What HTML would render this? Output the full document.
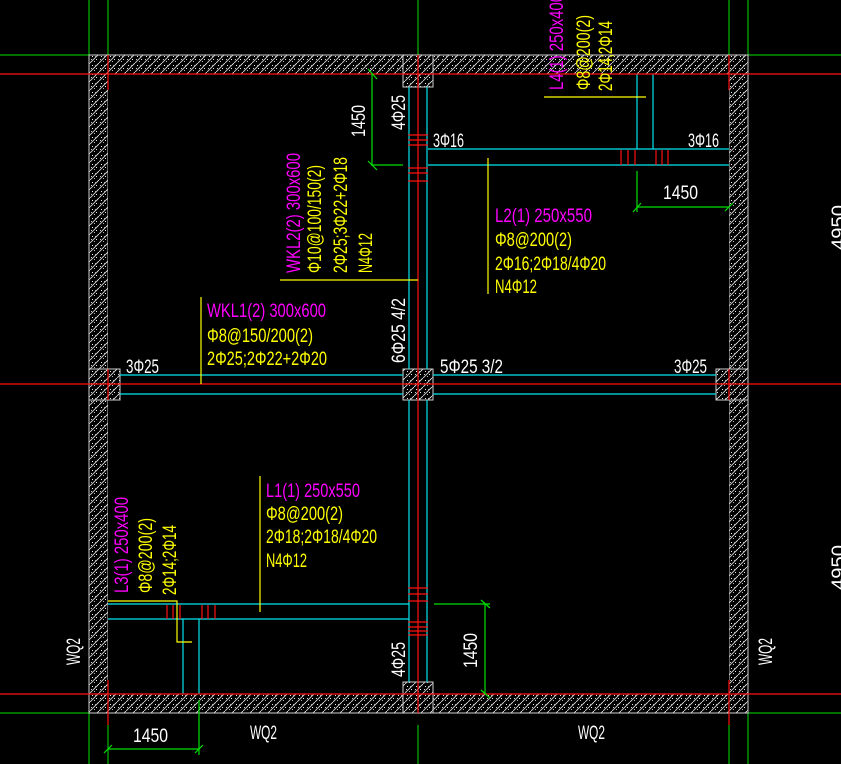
<!DOCTYPE html>
<html><head><meta charset="utf-8"><style>
html,body{margin:0;padding:0;background:#000;}
svg{display:block;}
text{font-family:"Liberation Sans",sans-serif;font-size:19px;}
</style></head><body>
<svg width="841" height="764" viewBox="0 0 841 764" xmlns="http://www.w3.org/2000/svg">
<defs>
<pattern id="h" width="9" height="9" patternUnits="userSpaceOnUse">
<rect width="9" height="9" fill="#000"/>
<line x1="0" y1="9" x2="9" y2="0" stroke="#d8d8d8" stroke-width="0.9"/>
<rect x="2" y="2" width="1" height="1" fill="#eee"/>
<rect x="6" y="5" width="1" height="1" fill="#eee"/>
<rect x="4" y="7" width="1" height="1" fill="#bbb"/>
<rect x="1" y="5" width="1" height="1" fill="#ccc"/>
<rect x="7" y="1" width="1" height="1" fill="#ccc"/>
<rect x="5" y="2" width="1" height="1" fill="#aaa"/>
</pattern>
</defs>
<rect width="841" height="764" fill="#000"/>

<g stroke="#00e000" stroke-width="1">
<line x1="89" y1="0" x2="89" y2="55"/><line x1="108" y1="0" x2="108" y2="55"/>
<line x1="418" y1="0" x2="418" y2="55"/>
<line x1="729" y1="0" x2="729" y2="55"/><line x1="748" y1="0" x2="748" y2="55"/>
<line x1="0" y1="55" x2="89" y2="55"/><line x1="748" y1="55" x2="841" y2="55"/>
<line x1="89" y1="713" x2="89" y2="764"/><line x1="108" y1="725" x2="108" y2="764"/>
<line x1="418" y1="725" x2="418" y2="764"/>
<line x1="729" y1="725" x2="729" y2="764"/><line x1="748" y1="713" x2="748" y2="764"/>
<line x1="0" y1="713" x2="89" y2="713"/><line x1="748" y1="713" x2="841" y2="713"/>
</g>

<g fill="url(#h)" stroke="#d0d0d0" stroke-width="1">
<rect x="89" y="55" width="659" height="19"/>
<rect x="89" y="694" width="659" height="19"/>
<rect x="89" y="55" width="19" height="658"/>
<rect x="729" y="55" width="19" height="658"/>
<rect x="403" y="55" width="30" height="32"/>
<rect x="403" y="369" width="30" height="31"/>
<rect x="89" y="369" width="31" height="31"/>
<rect x="716" y="369" width="32" height="31"/>
<rect x="403" y="682" width="30" height="31"/>
</g>
<rect x="108" y="74" width="621" height="620" fill="#000"/>
<rect x="403" y="74" width="30" height="13" fill="url(#h)" stroke="#d0d0d0"/>
<rect x="89" y="369" width="31" height="31" fill="url(#h)" stroke="#d0d0d0"/>
<rect x="716" y="369" width="32" height="31" fill="url(#h)" stroke="#d0d0d0"/>
<rect x="403" y="369" width="30" height="31" fill="url(#h)" stroke="#d0d0d0"/>
<rect x="403" y="682" width="30" height="12" fill="url(#h)" stroke="#d0d0d0"/>
<line x1="108" y1="74" x2="729" y2="74" stroke="#d0d0d0"/>
<line x1="108" y1="694" x2="729" y2="694" stroke="#d0d0d0"/>

<g stroke="#00e5ee" stroke-width="1.2" fill="none">
<line x1="409" y1="87" x2="409" y2="369"/><line x1="427" y1="87" x2="427" y2="369"/>
<line x1="409" y1="400" x2="409" y2="682"/><line x1="427" y1="400" x2="427" y2="682"/>
<line x1="120" y1="375" x2="403" y2="375"/><line x1="120" y1="394" x2="403" y2="394"/>
<line x1="433" y1="375" x2="716" y2="375"/><line x1="433" y1="394" x2="716" y2="394"/>
<line x1="428" y1="149" x2="729" y2="149"/><line x1="428" y1="165" x2="729" y2="165"/>
<line x1="637" y1="74" x2="637" y2="149"/><line x1="653" y1="74" x2="653" y2="149"/>
<line x1="108" y1="604" x2="409" y2="604"/><line x1="108" y1="619" x2="409" y2="619"/>
<line x1="183" y1="619" x2="183" y2="694"/><line x1="199" y1="619" x2="199" y2="694"/>
</g>

<g stroke="#ff1010" stroke-width="1.2">
<line x1="0" y1="74" x2="841" y2="74"/>
<line x1="0" y1="384" x2="841" y2="384"/>
<line x1="0" y1="694" x2="841" y2="694"/>
<line x1="418" y1="55" x2="418" y2="713"/>
<line x1="108" y1="55" x2="108" y2="90"/><line x1="108" y1="369" x2="108" y2="400"/><line x1="108" y1="680" x2="108" y2="725"/>
<line x1="729" y1="55" x2="729" y2="90"/><line x1="729" y1="369" x2="729" y2="400"/><line x1="729" y1="680" x2="729" y2="725"/>
<line x1="408" y1="135" x2="428" y2="135"/><line x1="408" y1="140" x2="428" y2="140"/><line x1="408" y1="145" x2="428" y2="145"/>
<line x1="408" y1="168" x2="428" y2="168"/><line x1="408" y1="173" x2="428" y2="173"/><line x1="408" y1="181" x2="428" y2="181"/>
<line x1="621" y1="150" x2="621" y2="165"/><line x1="628" y1="150" x2="628" y2="165"/><line x1="635" y1="150" x2="635" y2="165"/>
<line x1="656" y1="150" x2="656" y2="165"/><line x1="662" y1="150" x2="662" y2="165"/><line x1="668" y1="150" x2="668" y2="165"/>
<line x1="167" y1="605" x2="167" y2="619"/><line x1="173" y1="605" x2="173" y2="619"/><line x1="180" y1="605" x2="180" y2="619"/>
<line x1="202" y1="605" x2="202" y2="619"/><line x1="208" y1="605" x2="208" y2="619"/><line x1="215" y1="605" x2="215" y2="619"/>
<line x1="408" y1="588" x2="428" y2="588"/><line x1="408" y1="594" x2="428" y2="594"/><line x1="408" y1="601" x2="428" y2="601"/>
<line x1="408" y1="622" x2="428" y2="622"/><line x1="408" y1="627" x2="428" y2="627"/><line x1="408" y1="631" x2="428" y2="631"/><line x1="408" y1="635" x2="428" y2="635"/>
</g>

<g stroke="#ffff00" stroke-width="1.2" fill="none">
<line x1="280" y1="280" x2="418" y2="280"/>
<line x1="201" y1="297" x2="201" y2="384"/>
<line x1="488" y1="158" x2="488" y2="294"/>
<line x1="544" y1="97" x2="646" y2="97"/>
<line x1="260" y1="476" x2="260" y2="612"/>
<polyline points="108,601 177,601 177,642 192,642"/>
</g>

<g stroke="#00e000" stroke-width="1.2" fill="none">
<line x1="372" y1="74" x2="372" y2="166"/><line x1="372" y1="165" x2="403" y2="165"/>
<line x1="368" y1="69" x2="377" y2="79"/><line x1="368" y1="161" x2="377" y2="170"/>
<line x1="637" y1="171" x2="637" y2="212"/><line x1="637" y1="207" x2="729" y2="207"/>
<line x1="633" y1="212" x2="641" y2="203"/><line x1="725" y1="211" x2="733" y2="203"/>
<line x1="485" y1="604" x2="485" y2="694"/><line x1="434" y1="604" x2="490" y2="604"/>
<line x1="481" y1="600" x2="490" y2="608"/><line x1="481" y1="690" x2="490" y2="698"/>
<line x1="108" y1="749" x2="199" y2="749"/><line x1="199" y1="700" x2="199" y2="755"/>
<line x1="104" y1="753" x2="112" y2="745"/><line x1="195" y1="753" x2="203" y2="745"/>
</g>

<g fill="#ffffff">
<text x="433" y="147" textLength="31" lengthAdjust="spacingAndGlyphs">3Φ16</text>
<text x="688" y="147" textLength="31" lengthAdjust="spacingAndGlyphs">3Φ16</text>
<text x="126" y="373" textLength="33" lengthAdjust="spacingAndGlyphs">3Φ25</text>
<text x="440" y="373" textLength="63" lengthAdjust="spacingAndGlyphs">5Φ25 3/2</text>
<text x="674" y="373" textLength="33" lengthAdjust="spacingAndGlyphs">3Φ25</text>
<text transform="translate(405,130) rotate(-90)" textLength="35" lengthAdjust="spacingAndGlyphs">4Φ25</text>
<text transform="translate(405,363) rotate(-90)" textLength="65" lengthAdjust="spacingAndGlyphs">6Φ25 4/2</text>
<text transform="translate(405,677) rotate(-90)" textLength="35" lengthAdjust="spacingAndGlyphs">4Φ25</text>
<text transform="translate(365,137) rotate(-90)" textLength="32" lengthAdjust="spacingAndGlyphs">1450</text>
<text x="663" y="199" textLength="35" lengthAdjust="spacingAndGlyphs">1450</text>
<text transform="translate(477,668) rotate(-90)" textLength="35" lengthAdjust="spacingAndGlyphs">1450</text>
<text x="133" y="742" textLength="35" lengthAdjust="spacingAndGlyphs">1450</text>
<text x="250" y="739" textLength="27" lengthAdjust="spacingAndGlyphs">WQ2</text>
<text x="578" y="739" textLength="27" lengthAdjust="spacingAndGlyphs">WQ2</text>
<text transform="translate(80,665) rotate(-90)" textLength="27" lengthAdjust="spacingAndGlyphs">WQ2</text>
<text transform="translate(772,665) rotate(-90)" textLength="27" lengthAdjust="spacingAndGlyphs">WQ2</text>
<text transform="translate(845,250) rotate(-90)" textLength="45" lengthAdjust="spacingAndGlyphs">4950</text>
<text transform="translate(845,590) rotate(-90)" textLength="45" lengthAdjust="spacingAndGlyphs">4950</text>
</g>

<text x="207" y="317" fill="#ff00ff" textLength="119" lengthAdjust="spacingAndGlyphs">WKL1(2) 300x600</text>
<text x="207" y="342" fill="#ffff00" textLength="106" lengthAdjust="spacingAndGlyphs">Φ8@150/200(2)</text>
<text x="207" y="365" fill="#ffff00" textLength="120" lengthAdjust="spacingAndGlyphs">2Φ25;2Φ22+2Φ20</text>
<text transform="translate(300,273) rotate(-90)" fill="#ff00ff" textLength="120" lengthAdjust="spacingAndGlyphs">WKL2(2) 300x600</text>
<text transform="translate(321,273) rotate(-90)" fill="#ffff00" textLength="108" lengthAdjust="spacingAndGlyphs">Φ10@100/150(2)</text>
<text transform="translate(347,273) rotate(-90)" fill="#ffff00" textLength="116" lengthAdjust="spacingAndGlyphs">2Φ25;3Φ22+2Φ18</text>
<text transform="translate(372,273) rotate(-90)" fill="#ffff00" textLength="40" lengthAdjust="spacingAndGlyphs">N4Φ12</text>
<text x="495" y="222" fill="#ff00ff" textLength="97" lengthAdjust="spacingAndGlyphs">L2(1) 250x550</text>
<text x="495" y="246" fill="#ffff00" textLength="77" lengthAdjust="spacingAndGlyphs">Φ8@200(2)</text>
<text x="495" y="270" fill="#ffff00" textLength="111" lengthAdjust="spacingAndGlyphs">2Φ16;2Φ18/4Φ20</text>
<text x="495" y="293" fill="#ffff00" textLength="42" lengthAdjust="spacingAndGlyphs">N4Φ12</text>
<text x="266" y="497" fill="#ff00ff" textLength="94" lengthAdjust="spacingAndGlyphs">L1(1) 250x550</text>
<text x="266" y="520" fill="#ffff00" textLength="77" lengthAdjust="spacingAndGlyphs">Φ8@200(2)</text>
<text x="266" y="543" fill="#ffff00" textLength="111" lengthAdjust="spacingAndGlyphs">2Φ18;2Φ18/4Φ20</text>
<text x="266" y="567" fill="#ffff00" textLength="41" lengthAdjust="spacingAndGlyphs">N4Φ12</text>
<text transform="translate(128,593) rotate(-90)" fill="#ff00ff" textLength="96" lengthAdjust="spacingAndGlyphs">L3(1) 250x400</text>
<text transform="translate(152,593) rotate(-90)" fill="#ffff00" textLength="75" lengthAdjust="spacingAndGlyphs">Φ8@200(2)</text>
<text transform="translate(176,595) rotate(-90)" fill="#ffff00" textLength="70" lengthAdjust="spacingAndGlyphs">2Φ14;2Φ14</text>
<text transform="translate(563,90) rotate(-90)" fill="#ff00ff" textLength="96" lengthAdjust="spacingAndGlyphs">L4(1) 250x400</text>
<text transform="translate(590,90) rotate(-90)" fill="#ffff00" textLength="75" lengthAdjust="spacingAndGlyphs">Φ8@200(2)</text>
<text transform="translate(612,91) rotate(-90)" fill="#ffff00" textLength="70" lengthAdjust="spacingAndGlyphs">2Φ14;2Φ14</text>
</svg>
</body></html>
